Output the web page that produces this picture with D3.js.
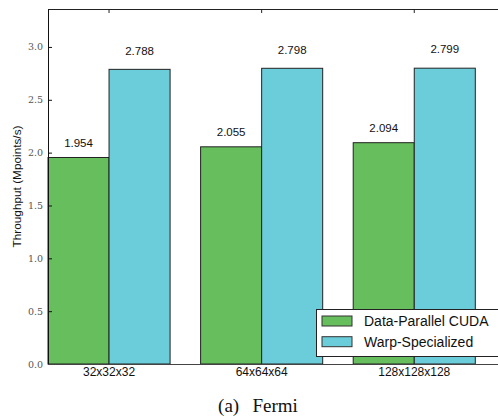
<!DOCTYPE html>
<html><head><meta charset="utf-8">
<script src="https://cdn.jsdelivr.net/npm/d3@7"></script>
<style>body{margin:0;background:#fff}svg{display:block}</style>
</head><body>
<svg id="c" width="498" height="416"></svg>
<script>
const categories = ["32x32x32", "64x64x64", "128x128x128"];
const seriesNames = ["Data-Parallel CUDA", "Warp-Specialized"];
const dataParallel = [1.954, 2.055, 2.094];
const warpSpecialized = [2.788, 2.798, 2.799];
const yTicks = [0, 0.5, 1.0, 1.5, 2.0, 2.5, 3.0];
const colors = ["#66bf5c", "#6bcdd9"];
const series = [dataParallel, warpSpecialized];

(function(){
const svg = d3.select("#c");
const mLeft = 48, mTop = 9, mBottom = 364;
const y = d3.scaleLinear().domain([0, 3.359]).range([mBottom, mTop]);
const x0b = d3.scaleBand().domain(categories).range([mLeft, 475.3]).paddingInner(0.2).paddingOuter(0);
const x1 = d3.scaleBand().domain([0,1]).range([0, x0b.bandwidth()]);

// bars
series.forEach((vals, si) => {
  svg.selectAll(null).data(vals).enter().append("rect")
    .attr("x", (d,i) => x0b(categories[i]) + x1(si))
    .attr("y", d => y(d))
    .attr("width", x1.bandwidth())
    .attr("height", d => y(0) - y(d))
    .attr("fill", colors[si])
    .attr("stroke", "#222").attr("stroke-width", 1);
  svg.selectAll(null).data(vals).enter().append("text")
    .attr("x", (d,i) => x0b(categories[i]) + x1(si) + x1.bandwidth()/2)
    .attr("y", d => y(d * 1.05))
    .attr("text-anchor", "middle")
    .attr("font-family", "Liberation Sans, Arial, sans-serif")
    .attr("font-size", 11.5).attr("fill", "#111")
    .text(d => d.toFixed(3));
});

// top frame
svg.append("line").attr("x1", mLeft).attr("x2", 498).attr("y1", mTop+0.5).attr("y2", mTop+0.5).attr("stroke", "#222").attr("stroke-width", 1);
// y axis
const yAxis = d3.axisLeft(y).tickValues(yTicks).tickFormat(d3.format(".1f")).tickSizeInner(-4).tickSizeOuter(0).tickPadding(5);
const ya = svg.append("g").attr("transform", `translate(${mLeft},0)`).call(yAxis);
ya.select(".domain").attr("stroke", "#111");
ya.selectAll(".tick line").attr("stroke", "#111");
ya.selectAll("text").attr("font-family", "DejaVu Serif, serif").attr("font-size", 9.5).attr("fill", "#555");
// bottom axis
const xAxis = d3.axisBottom(x0b).tickSize(0).tickPadding(3);
const xa = svg.append("g").attr("transform", `translate(0,${mBottom})`).call(xAxis);
xa.select(".domain").remove();
svg.append("line").attr("x1", mLeft).attr("x2", 498).attr("y1", mBottom+0.5).attr("y2", mBottom+0.5).attr("stroke", "#444").attr("stroke-width", 1.2);
xa.selectAll("text").attr("font-family", "Liberation Sans, Arial, sans-serif").attr("font-size", 12).attr("fill", "#111");
// top ticks
svg.selectAll(null).data(categories).enter().append("line")
  .attr("x1", d => x0b(d) + x0b.bandwidth()/2).attr("x2", d => x0b(d) + x0b.bandwidth()/2)
  .attr("y1", mTop).attr("y2", mTop + 4).attr("stroke", "#222");

// y label
svg.append("text").attr("transform", `translate(20.5,${(mTop+mBottom)/2}) rotate(-90)`)
  .attr("text-anchor", "middle").attr("font-family", "Liberation Sans, Arial, sans-serif")
  .attr("font-size", 11.8).attr("fill", "#111").text("Throughput (Mpoints/s)");

// legend
const lg = svg.append("g");
lg.append("rect").attr("x", 316.5).attr("y", 309.5).attr("width", 190).attr("height", 47).attr("fill", "#fff").attr("stroke", "#222");
seriesNames.forEach((n, i) => {
  lg.append("rect").attr("x", 322).attr("y", 316 + i*20.7).attr("width", 30).attr("height", 10)
    .attr("fill", colors[i]).attr("stroke", "#333");
  lg.append("text").attr("x", 364).attr("y", 326 + i*20.6)
    .attr("font-family", "Liberation Sans, Arial, sans-serif").attr("font-size", 14).attr("fill", "#111").text(n);
});

// caption
svg.append("text").attr("x", 258).attr("y", 411.5).attr("text-anchor", "middle")
  .attr("font-family", "Liberation Serif, Times New Roman, serif").attr("font-size", 19).attr("fill", "#111")
  .text("(a)\u2002\u2009Fermi");
})();
</script>
</body></html>
